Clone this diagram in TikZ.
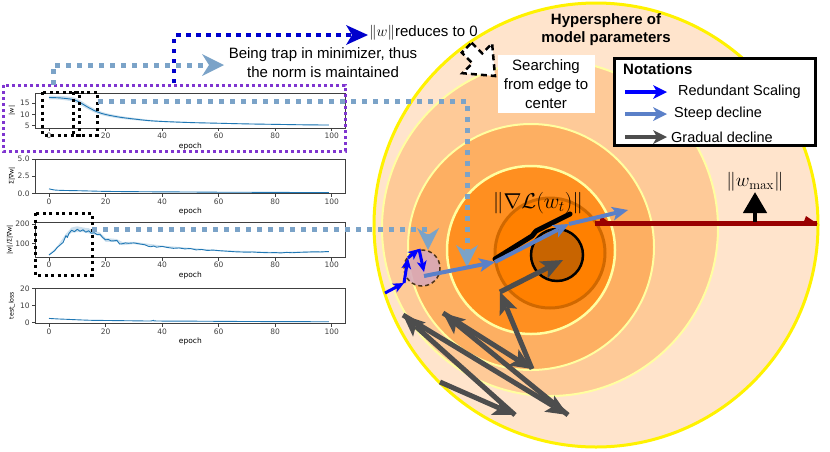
\RequirePackage{fix-cm}
\documentclass[tikz,border=0pt]{standalone}
\usepackage[no-math]{fontspec}
\setmainfont{Liberation Sans}
\newfontfamily\plotfont{DejaVu Sans}
\usetikzlibrary{arrows.meta}

\definecolor{ringA}{HTML}{FFE4CC}
\definecolor{ringB}{HTML}{FECA98}
\definecolor{ringC}{HTML}{FDAF62}
\definecolor{ringD}{HTML}{FF8F20}
\definecolor{core}{HTML}{FF8000}
\definecolor{coreedge}{HTML}{D06800}
\definecolor{hole}{HTML}{C86400}
\definecolor{paleyellow}{HTML}{FFFFA0}
\definecolor{trapblue}{HTML}{7BA3C8}
\definecolor{normblue}{HTML}{0000CC}
\definecolor{zoneviolet}{HTML}{7F35D0}
\definecolor{steep}{HTML}{5B80C8}
\definecolor{gradual}{HTML}{4D4D4D}
\definecolor{redund}{HTML}{0000FF}
\definecolor{maxred}{HTML}{990000}
\definecolor{mplblue}{HTML}{1F77B4}
\definecolor{pinkish}{HTML}{D6A8BE}

\tikzset{
  note/.style={font=\fontsize{15}{19}\selectfont, align=center, inner sep=0pt},
  boldnote/.style={font=\fontsize{15}{18}\selectfont\bfseries, align=center, inner sep=0pt},
  keynote/.style={font=\fontsize{14.5}{17}\selectfont, anchor=west, inner sep=0pt},
  ticklbl/.style={font=\plotfont\fontsize{7.5}{8}\selectfont, inner sep=0pt},
  axlabel/.style={font=\plotfont\fontsize{6.3}{7}\selectfont, inner sep=0pt, rotate=90},
  axframe/.style={black!75, line width=0.7pt},
  curve/.style={mplblue, line width=0.9pt, line join=round},
  band/.style={mplblue, fill opacity=0.22},
  trapline/.style={trapblue, line width=5pt, dash pattern=on 5pt off 6pt,
    -{Stealth[length=22pt,width=22pt,inset=7pt,line width=0pt]}},
  normline/.style={normblue, line width=4.5pt, dash pattern=on 4.5pt off 5.5pt,
    -{Stealth[length=22pt,width=20pt,inset=6pt,line width=0pt]}},
  zonebox/.style={zoneviolet, line width=3pt, dash pattern=on 3pt off 3pt},
  peekbox/.style={black, line width=3pt, dash pattern=on 3pt off 3.5pt},
  steeparrow/.style={steep, line width=4pt, -{Stealth[length=16pt,width=14pt,inset=4pt,line width=0pt]}},
  gradarrow/.style={gradual, line width=5pt, -{Stealth[length=22pt,width=19pt,inset=5pt,line width=0pt]}},
  redarrow/.style={redund, line width=3pt, -{Stealth[length=11pt,width=10pt,inset=3pt,line width=0pt]}},
  keyarrow/.style={line width=3.5pt, -{Stealth[length=14pt,width=14pt,inset=4pt,line width=0pt]}},
}

\begin{document}
\begin{tikzpicture}[x=1pt, y=-1pt]
\useasboundingbox (0,0) rectangle (830,451);

% hypersphere
\filldraw[fill=ringA, draw=yellow, line width=3pt] (596,225) circle[radius=222];
\filldraw[fill=ringB, draw=paleyellow, line width=2pt] (550,228) circle[radius=168];
\filldraw[fill=ringC, draw=paleyellow, line width=2pt] (531,247) circle[radius=123];
\filldraw[fill=ringD, draw=paleyellow, line width=2.5pt] (531,250) circle[radius=84];
\filldraw[fill=core, draw=coreedge, line width=3pt] (550,253) circle[radius=55];
\filldraw[fill=hole, draw=black, line width=2.5pt] (557,255) circle[radius=26];
\filldraw[fill=pinkish, fill opacity=0.85, draw=black!60!brown, line width=1.5pt,
  dash pattern=on 4pt off 3pt] (422,268) circle[radius=18];

% |w|
\begin{scope}[xshift=49pt, yshift=-136.9pt, x=2.828pt, y=2.24pt]
  \fill[band] plot[smooth] coordinates {(0,18.4) (4,18.3) (8,17.8) (10,17.0) (12,15.6) (14,14.0) (17,12.0)
    (20,10.7) (25,9.4) (30,8.5) (40,7.2) (60,6.3) (80,5.8) (99,5.5)}
    -- plot[smooth] coordinates {(99,5.1) (80,5.4) (60,5.9) (40,6.6) (30,7.5) (25,8.2) (20,9.3)
    (17,10.4) (14,12.2) (12,13.6) (10,15.0) (8,15.9) (4,16.6) (0,16.8)} -- cycle;
  \draw[curve] plot[smooth] coordinates {(0,17.6) (4,17.4) (8,16.8) (10,16.0) (12,14.6) (14,13.1) (17,11.2)
    (20,10.0) (25,8.8) (30,8.0) (35,7.3) (40,6.9) (50,6.4) (60,6.1) (70,5.8) (80,5.6) (90,5.4) (99,5.3)};
  \draw[axframe] (-4.95,4) rectangle (104.95,19.6);
  \foreach \e in {0,20,...,100}
    \draw[axframe] (\e,4) -- ++(0pt,-3.5pt) node[ticklbl, anchor=north, yshift=-1.5pt] {\e};
  \foreach \v in {5,10,15}
    \draw[axframe] (-4.95,\v) -- ++(-3.5pt,0pt) node[ticklbl, anchor=east, xshift=-1.5pt] {\v};
  \node[ticklbl, anchor=north, yshift=-14.5pt] (ep1) at (50,4) {epoch};
  \node[axlabel] (yl1) at (-13.1,11.8) {|w|};
\end{scope}

% sum of gradients
\begin{scope}[xshift=49pt, yshift=-193.3pt, x=2.828pt, y=6.86pt]
  \draw[curve] plot[smooth] coordinates {(0,0.65) (2,0.48) (5,0.42) (10,0.38) (15,0.33) (20,0.28) (30,0.24)
    (40,0.21) (50,0.19) (60,0.16) (70,0.15) (80,0.13) (90,0.12) (99,0.1)};
  \draw[axframe] (-4.95,0) rectangle (104.95,5);
  \foreach \e in {0,20,...,100}
    \draw[axframe] (\e,0) -- ++(0pt,-3.5pt) node[ticklbl, anchor=north, yshift=-1.5pt] {\e};
  \foreach \v/\t in {0/0.0, 2.5/2.5, 5/5.0}
    \draw[axframe] (-4.95,\v) -- ++(-3.5pt,0pt) node[ticklbl, anchor=east, xshift=-1.5pt] {\t};
  \node[ticklbl, anchor=north, yshift=-14.5pt] (ep2) at (50,0) {epoch};
  \node[axlabel] (yl2) at (-13.1,2.5) {Σ|∇w|};
\end{scope}

% ratio
\begin{scope}[xshift=49pt, yshift=-262.6pt, x=2.828pt, y=0.193pt]
  \fill[band] plot coordinates {(0,44) (3,86) (6,150) (8,182) (10,188) (12,182) (14,178) (16,165) (18,156)
    (20,128) (24,122) (26,106) (30,108) (40,88) (60,65) (80,55) (99,60)}
    -- plot coordinates {(99,54) (80,49) (60,59) (40,80) (30,96) (26,90) (24,108) (20,108) (18,138)
    (16,145) (14,152) (12,158) (10,158) (8,155) (6,130) (3,74) (0,36)} -- cycle;
  \draw[curve] plot coordinates {(0,40) (1,50) (2,62) (3,80) (4,92) (5,105) (6,140) (6.5,130) (7,150) (8,168)
    (9,160) (10,173) (11,162) (12,170) (13,158) (14,165) (15,152) (16,155) (17,145) (18,147) (19,130)
    (20,118) (21,120) (22,112) (23,113) (24,115) (25,96) (26,98) (27,102) (28,100) (30,102) (32,97)
    (34,92) (35,85) (36,82) (37,86) (38,80) (40,84) (42,78) (44,74) (46,76) (48,71) (50,73) (52,66)
    (54,68) (56,63) (58,65) (60,62) (62,60) (64,58) (66,56) (68,55) (70,54) (72,55) (74,53) (76,52)
    (78,51) (80,52) (82,50) (84,53) (86,51) (88,53) (90,54) (92,55) (94,56) (96,55) (98,57) (99,57)};
  \draw[axframe] (-4.95,29) rectangle (104.95,207);
  \foreach \e in {0,20,...,100}
    \draw[axframe] (\e,29) -- ++(0pt,-3.5pt) node[ticklbl, anchor=north, yshift=-1.5pt] {\e};
  \foreach \v in {100,200}
    \draw[axframe] (-4.95,\v) -- ++(-3.5pt,0pt) node[ticklbl, anchor=east, xshift=-1.5pt] {\v};
  \node[ticklbl, anchor=north, yshift=-14.5pt] (ep3) at (50,29) {epoch};
  \node[axlabel] (yl3) at (-13.8,118) {|w|/Σ|∇w|};
\end{scope}

% test loss
\begin{scope}[xshift=49pt, yshift=-322.7pt, x=2.828pt, y=1.72pt]
  \draw[curve] plot[smooth] coordinates {(0,2.5) (3,2.2) (6,2.0) (10,1.7) (15,1.4) (20,1.3) (30,1.1) (36,1.0)
    (37,1.4) (38,1.0) (50,0.9) (60,0.8) (70,0.7) (80,0.65) (90,0.6) (99,0.55)};
  \draw[axframe] (-4.95,-0.3) rectangle (104.95,20.2);
  \foreach \e in {0,20,...,100}
    \draw[axframe] (\e,-0.3) -- ++(0pt,-3.5pt) node[ticklbl, anchor=north, yshift=-1.5pt] {\e};
  \foreach \v in {0,10,20}
    \draw[axframe] (-4.95,\v) -- ++(-3.5pt,0pt) node[ticklbl, anchor=east, xshift=-1.5pt] {\v};
  \node[ticklbl, anchor=north, yshift=-14.5pt] (ep4) at (50,-0.3) {epoch};
  \node[axlabel] (yl4) at (-13.1,10) {test\_loss};
\end{scope}

% highlighted regions
\draw[zonebox] (3,85) rectangle (345,151);
\draw[peekbox] (42,92) rectangle (79,135);
\draw[peekbox] (73,92) rectangle (97,135);
\draw[peekbox] (35,213) rectangle (92,275);

% dotted guides
\coordinate (p1) at (98,101);
\coordinate (p1turn) at (467,101);
\coordinate (p1end) at (467,267);
\coordinate (p3) at (92,229);
\coordinate (p3turn) at (428,229);
\coordinate (p3end) at (428,250);
\coordinate (zonetop) at (53,85);
\coordinate (trapturn) at (53,65);
\coordinate (trapend) at (224,65);
\coordinate (normstart) at (174,83);
\coordinate (normturn) at (174,35);
\coordinate (normend) at (368,35);
\draw[trapline] (p1) -- (p1turn) -- (p1end);
\draw[trapline] (p3) -- (p3turn) -- (p3end);
\draw[trapline] (zonetop) -- (trapturn) -- (trapend);
\draw[normline] (normstart) -- (normturn) -- (normend);

% texts
\node[note, anchor=west] (reduce) at (369,33) {$\|w\|$reduces to 0};
\node[note] (trap) at (323,63) {Being trap in minimizer, thus\\the norm is maintained};
\node[boldnote] (sphere) at (606,30) {Hypersphere of\\model parameters};
\node[note, fill=white, minimum width=97pt, minimum height=58pt] (search) at (546,84) {Searching\\from edge to\\center};
\filldraw[fill=white, draw=black, line width=2.5pt, dash pattern=on 6pt off 4pt, line join=miter]
  (471.6,42.8) -- (482.3,53.4) -- (492.1,43.4) -- (495,76) -- (462.4,73.2) -- (472.4,63.3) -- (461.8,52.7) -- cycle;

% legend
\node[draw, line width=3pt, fill=white, minimum width=201pt, minimum height=87pt] (legend) at (715,102) {};
\node[boldnote, anchor=west] (legtitle) at (623,69) {Notations};
\draw[keyarrow, redund] (625,92) -- (667,92);
\node[keynote] (legred) at (678,92) {Redundant Scaling};
\draw[keyarrow, steep] (625,114) -- (667,114);
\node[keynote] (legsteep) at (674,114) {Steep decline};
\draw[keyarrow, gradual] (625,137) -- (667,137);
\node[keynote] (leggrad) at (671,137) {Gradual decline};

% radius of the sphere
\draw[maxred, line width=5pt] (595,223) -- (817,223);
\fill[maxred] (599,224) -- (601,216) -- (611,224) -- cycle;
\fill[maxred] (803,224) -- (806,216) -- (818,224) -- cycle;
\draw[line width=4.5pt, -{Triangle[length=21pt,width=23pt]}] (755,222) -- (755,192);
\node[font=\fontsize{19}{21}\selectfont] (wmax) at (755,182) {$\|w_{\max}\|$};
\node[font=\fontsize{21.5}{23}\selectfont] (gradlbl) at (538,203) {$\|\nabla\mathcal{L}(w_t)\|$};

% gradient step
\draw[line width=5pt, line cap=round, line join=round] (495,259) -- (532,236) -- (536,231) -- (570,214);

% redundant scaling
\coordinate (r0) at (385,293);
\coordinate (r1) at (404,283);
\coordinate (r2) at (408,258);
\coordinate (r3) at (419,249);
\coordinate (r4) at (424,272);
\foreach \a/\b in {r0/r1, r1/r2, r2/r3, r3/r4}
  \draw[redarrow] (\a) -- (\b);

% steep decline
\coordinate (s0) at (424,276);
\coordinate (s1) at (495,262);
\coordinate (s2) at (569,224);
\coordinate (s3) at (628,210);
\foreach \a/\b in {s0/s1, s1/s2, s2/s3}
  \draw[steeparrow] (\a) -- (\b);

% gradual decline
\coordinate (g0) at (440,382);
\coordinate (g1) at (515,415);
\coordinate (g2) at (403,315);
\coordinate (g3) at (568,415);
\coordinate (g4) at (443,313);
\coordinate (g5) at (532,369);
\coordinate (g6) at (500,292);
\coordinate (g7) at (563,260);
\foreach \a/\b in {g0/g1, g1/g2, g2/g3, g3/g4, g4/g5, g5/g6, g6/g7}
  \draw[gradarrow] (\a) -- (\b);
\end{tikzpicture}
\end{document}
